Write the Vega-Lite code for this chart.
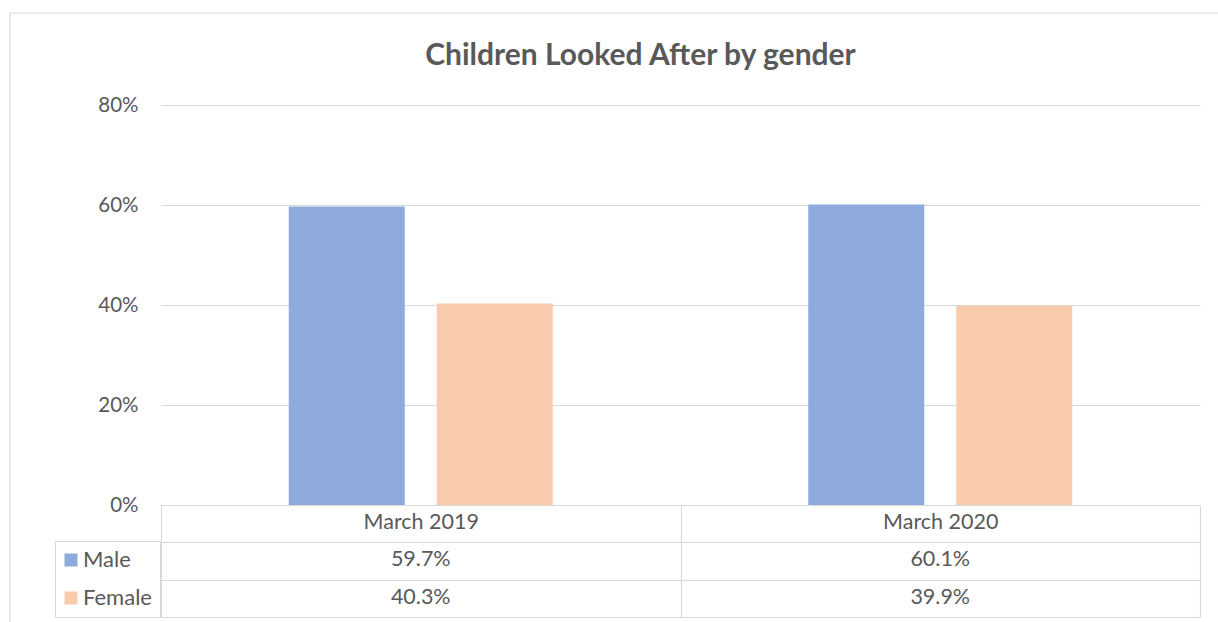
{
  "$schema": "https://vega.github.io/schema/vega-lite/v6.json",
  "autosize": {"type": "none"},
  "padding": {"left": 161, "top": 105, "right": 18, "bottom": 5},
  "width": 1039,
  "height": 512,
  "background": "white",
  "config": {
    "font": "Lato",
    "view": {"stroke": null},
    "axis": {"labelFont": "Lato", "labelColor": "#595959"},
    "legend": {"labelFont": "Lato"}
  },
  "title": {
    "text": "Children Looked After by gender",
    "font": "Lato",
    "fontSize": 30,
    "fontWeight": "bold",
    "color": "#595959",
    "anchor": "middle",
    "frame": "group",
    "dx": -40,
    "offset": -82.6,
    "baseline": "alphabetic"
  },
  "data": {
    "values": [
      {"period": "March 2019", "gender": "Male", "value": 0.597},
      {"period": "March 2019", "gender": "Female", "value": 0.403},
      {"period": "March 2020", "gender": "Male", "value": 0.601},
      {"period": "March 2020", "gender": "Female", "value": 0.399}
    ]
  },
  "layer": [
    {
      "data": {"values": [{}]},
      "mark": {"type": "rect", "fill": null, "stroke": "#d9d9d9", "strokeWidth": 1.2},
      "encoding": {
        "x": {"datum": -0.2907, "type": "quantitative", "scale": {"domain": [0, 2], "nice": false, "zero": false}, "axis": null},
        "x2": {"datum": 2.06},
        "y": {"datum": 0.984, "type": "quantitative"},
        "y2": {"datum": -0.26}
      }
    },
    {
      "encoding": {
        "x": {
          "field": "period", "type": "nominal",
          "scale": {"paddingInner": 0, "paddingOuter": 0},
          "axis": {
            "title": null,
            "orient": "bottom",
            "offset": -112,
            "domain": true,
            "domainColor": "#d9d9d9",
            "domainWidth": 1.2,
            "ticks": true,
            "tickBand": "extent",
            "tickSize": 112,
            "tickColor": "#d9d9d9",
            "tickWidth": 1.2,
            "grid": false,
            "labelAngle": 0,
            "labelFontSize": 21.5,
            "labelColor": "#595959",
            "labelBaseline": "middle",
            "labelPadding": -95
          }
        }
      },
      "layer": [
        {
          "mark": {"type": "bar"},
          "encoding": {
            "xOffset": {
              "field": "gender", "type": "nominal",
              "sort": ["Male", "Female"],
              "scale": {"paddingInner": 0.2162, "paddingOuter": 0.863}
            },
            "y": {
              "field": "value", "type": "quantitative",
              "stack": null,
              "scale": {"domain": [-0.224, 0.8], "nice": false, "zero": false},
              "axis": {
                "title": null,
                "orient": "left",
                "values": [-0.224, -0.15, -0.074, 0, 0.2, 0.4, 0.6, 0.8],
                "domain": false,
                "grid": true,
                "gridColor": "#d9d9d9",
                "gridWidth": 1.2,
                "ticks": true,
                "tickSize": 106,
                "tickColor": "#d9d9d9",
                "tickWidth": 1.2,
                "tickOpacity": {"condition": {"test": "datum.value < 0", "value": 1}, "value": 0},
                "labelExpr": "datum.value >= 0 ? format(datum.value, '.0%') : ''",
                "labelFontSize": 20.5,
                "labelColor": "#595959",
                "labelPadding": -83
              }
            },
            "color": {
              "field": "gender", "type": "nominal",
              "sort": ["Male", "Female"],
              "scale": {"domain": ["Male", "Female"], "range": ["#8faadc", "#f8cbad"]},
              "legend": {
                "title": null,
                "orient": "none",
                "legendX": -106,
                "legendY": 436,
                "direction": "vertical",
                "symbolType": "square",
                "symbolSize": 169,
                "symbolStrokeWidth": 0,
                "symbolOffset": -3,
                "labelFontSize": 22,
                "labelColor": "#595959",
                "labelOffset": 1,
                "rowPadding": 16,
                "padding": 8,
                "strokeColor": "#d9d9d9",
                "fillColor": "white"
              }
            }
          }
        },
        {
          "transform": [{"filter": "datum.gender === 'Male'"}],
          "mark": {"type": "text", "fontSize": 21.5, "color": "#595959", "align": "center", "baseline": "middle", "font": "Lato"},
          "encoding": {
            "y": {"datum": -0.11, "type": "quantitative"},
            "text": {"field": "value", "type": "quantitative", "format": ".1%"}
          }
        },
        {
          "transform": [{"filter": "datum.gender === 'Female'"}],
          "mark": {"type": "text", "fontSize": 21.5, "color": "#595959", "align": "center", "baseline": "middle", "font": "Lato"},
          "encoding": {
            "y": {"datum": -0.186, "type": "quantitative"},
            "text": {"field": "value", "type": "quantitative", "format": ".1%"}
          }
        }
      ]
    }
  ],
  "resolve": {"scale": {"x": "independent"}}
}
